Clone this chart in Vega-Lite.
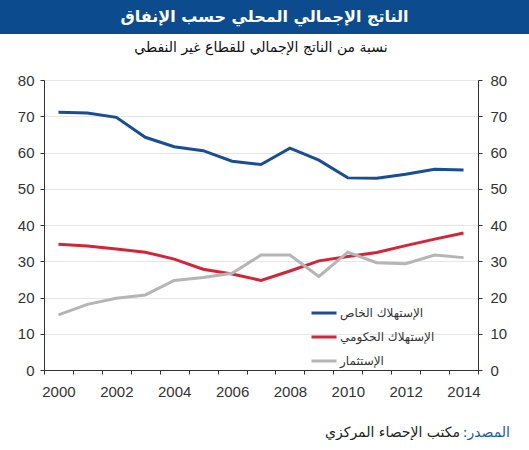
{
  "$schema": "https://vega.github.io/schema/vega-lite/v6.json",
  "padding": 0,
  "spacing": 7,
  "config": {
    "view": {"stroke": null},
    "font": "Liberation Sans, DejaVu Sans",
    "axis": {"labelFont": "Liberation Sans", "labelFontSize": 15, "labelColor": "#333333", "domainColor": "#333333", "tickColor": "#333333", "tickSize": 4, "title": null}
  },
  "vconcat": [
    {
      "width": 529,
      "height": 34,
      "view": {"fill": "#0c4b8e", "stroke": null},
      "data": {"values": [{"t": "‎الناتج الإجمالي المحلي حسب الإنفاق"}]},
      "mark": {"type": "text", "color": "white", "fontSize": 16, "fontWeight": "bold", "font": "DejaVu Sans"},
      "encoding": {"text": {"field": "t"}}
    },
    {
      "spacing": 0,
      "hconcat": [
        {
          "width": 1,
          "height": 1,
          "view": {"fill": "white", "stroke": null},
          "data": {"values": []},
          "mark": "text",
          "encoding": {}
        },
        {
          "width": 434,
          "height": 290,
          "title": {"text": "‎نسبة من الناتج الإجمالي للقطاع غير النفطي", "fontSize": 14, "fontWeight": "normal", "color": "#111111", "font": "DejaVu Sans", "offset": 18, "frame": "group"},
          "data": {"values": [
            {"year": 2000, "series": "الإستهلاك الخاص", "value": 71.1},
            {"year": 2001, "series": "الإستهلاك الخاص", "value": 70.9},
            {"year": 2002, "series": "الإستهلاك الخاص", "value": 69.7},
            {"year": 2003, "series": "الإستهلاك الخاص", "value": 64.2},
            {"year": 2004, "series": "الإستهلاك الخاص", "value": 61.6},
            {"year": 2005, "series": "الإستهلاك الخاص", "value": 60.5},
            {"year": 2006, "series": "الإستهلاك الخاص", "value": 57.6},
            {"year": 2007, "series": "الإستهلاك الخاص", "value": 56.7},
            {"year": 2008, "series": "الإستهلاك الخاص", "value": 61.2},
            {"year": 2009, "series": "الإستهلاك الخاص", "value": 57.9},
            {"year": 2010, "series": "الإستهلاك الخاص", "value": 53.0},
            {"year": 2011, "series": "الإستهلاك الخاص", "value": 52.9},
            {"year": 2012, "series": "الإستهلاك الخاص", "value": 54.0},
            {"year": 2013, "series": "الإستهلاك الخاص", "value": 55.4},
            {"year": 2014, "series": "الإستهلاك الخاص", "value": 55.2},
            {"year": 2000, "series": "الإستهلاك الحكومي", "value": 34.7},
            {"year": 2001, "series": "الإستهلاك الحكومي", "value": 34.2},
            {"year": 2002, "series": "الإستهلاك الحكومي", "value": 33.4},
            {"year": 2003, "series": "الإستهلاك الحكومي", "value": 32.5},
            {"year": 2004, "series": "الإستهلاك الحكومي", "value": 30.6},
            {"year": 2005, "series": "الإستهلاك الحكومي", "value": 27.8},
            {"year": 2006, "series": "الإستهلاك الحكومي", "value": 26.5},
            {"year": 2007, "series": "الإستهلاك الحكومي", "value": 24.7},
            {"year": 2008, "series": "الإستهلاك الحكومي", "value": 27.3},
            {"year": 2009, "series": "الإستهلاك الحكومي", "value": 30.1},
            {"year": 2010, "series": "الإستهلاك الحكومي", "value": 31.3},
            {"year": 2011, "series": "الإستهلاك الحكومي", "value": 32.4},
            {"year": 2012, "series": "الإستهلاك الحكومي", "value": 34.3},
            {"year": 2013, "series": "الإستهلاك الحكومي", "value": 36.1},
            {"year": 2014, "series": "الإستهلاك الحكومي", "value": 37.8},
            {"year": 2000, "series": "الإستثمار", "value": 15.2},
            {"year": 2001, "series": "الإستثمار", "value": 18.1},
            {"year": 2002, "series": "الإستثمار", "value": 19.8},
            {"year": 2003, "series": "الإستثمار", "value": 20.7},
            {"year": 2004, "series": "الإستثمار", "value": 24.7},
            {"year": 2005, "series": "الإستثمار", "value": 25.5},
            {"year": 2006, "series": "الإستثمار", "value": 26.7},
            {"year": 2007, "series": "الإستثمار", "value": 31.7},
            {"year": 2008, "series": "الإستثمار", "value": 31.7},
            {"year": 2009, "series": "الإستثمار", "value": 25.8},
            {"year": 2010, "series": "الإستثمار", "value": 32.5},
            {"year": 2011, "series": "الإستثمار", "value": 29.6},
            {"year": 2012, "series": "الإستثمار", "value": 29.3},
            {"year": 2013, "series": "الإستثمار", "value": 31.7},
            {"year": 2014, "series": "الإستثمار", "value": 31.0}
          ]},
          "resolve": {"axis": {"y": "independent"}},
          "layer": [
            {
              "mark": {"type": "line", "strokeWidth": 3},
              "encoding": {
                "x": {"field": "year", "type": "ordinal", "bandPosition": 0.5, "scale": {"type": "band", "paddingInner": 0, "paddingOuter": 0},
                      "axis": {"tickBand": "extent", "labelAngle": 0, "labelPadding": 10, "labelExpr": "datum.value % 2 === 0 ? datum.label : ''", "grid": false}},
                "y": {"field": "value", "type": "quantitative", "scale": {"domain": [0, 80], "nice": false},
                      "axis": {"orient": "left", "values": [0, 10, 20, 30, 40, 50, 60, 70, 80], "grid": true, "gridColor": "#e6e6e6", "gridWidth": 1, "labelPadding": 6, "minExtent": 43}},
                "color": {"field": "series", "type": "nominal",
                          "scale": {"domain": ["الإستهلاك الخاص", "الإستهلاك الحكومي", "الإستثمار"], "range": ["#1a4e94", "#d3253a", "#b5b5b5"]},
                          "legend": {"orient": "none", "legendX": 310, "legendY": 299, "title": null, "symbolType": "stroke", "symbolStrokeWidth": 3, "symbolSize": 625, "rowPadding": 4, "labelFont": "DejaVu Sans", "labelFontSize": 12, "labelColor": "#333333", "labelOffset": 2, "padding": 0, "labelExpr": "'\u200e' + datum.label"}}
              }
            },
            {
              "mark": {"type": "line", "opacity": 0},
              "encoding": {
                "x": {"field": "year", "type": "ordinal", "bandPosition": 0.5, "scale": {"type": "band", "paddingInner": 0, "paddingOuter": 0},
                      "axis": {"tickBand": "extent", "labelAngle": 0, "labelPadding": 10, "labelExpr": "datum.value % 2 === 0 ? datum.label : ''", "grid": false}},
                "y": {"field": "value", "type": "quantitative", "scale": {"domain": [0, 80], "nice": false},
                      "axis": {"orient": "right", "values": [0, 10, 20, 30, 40, 50, 60, 70, 80], "grid": false, "labelPadding": 8}},
                "detail": {"field": "series"}
              }
            }
          ]
        }
      ]
    },
    {
      "spacing": 0,
      "hconcat": [
        {
          "width": 460,
          "height": 14,
          "view": {"fill": "white", "stroke": null},
          "data": {"values": []},
          "mark": "text",
          "encoding": {},
          "title": {"text": "‎مكتب الإحصاء المركزي", "orient": "bottom", "anchor": "end", "frame": "group", "fontSize": 14, "fontWeight": "normal", "color": "#222222", "font": "DejaVu Sans", "offset": 6}
        },
        {
          "width": 50,
          "height": 14,
          "view": {"fill": "white", "stroke": null},
          "data": {"values": []},
          "mark": "text",
          "encoding": {},
          "title": {"text": "‎المصدر:‏", "orient": "bottom", "anchor": "end", "frame": "group", "fontSize": 14, "fontWeight": "normal", "color": "#1a5aa8", "font": "DejaVu Sans", "offset": 6}
        }
      ]
    }
  ]
}
